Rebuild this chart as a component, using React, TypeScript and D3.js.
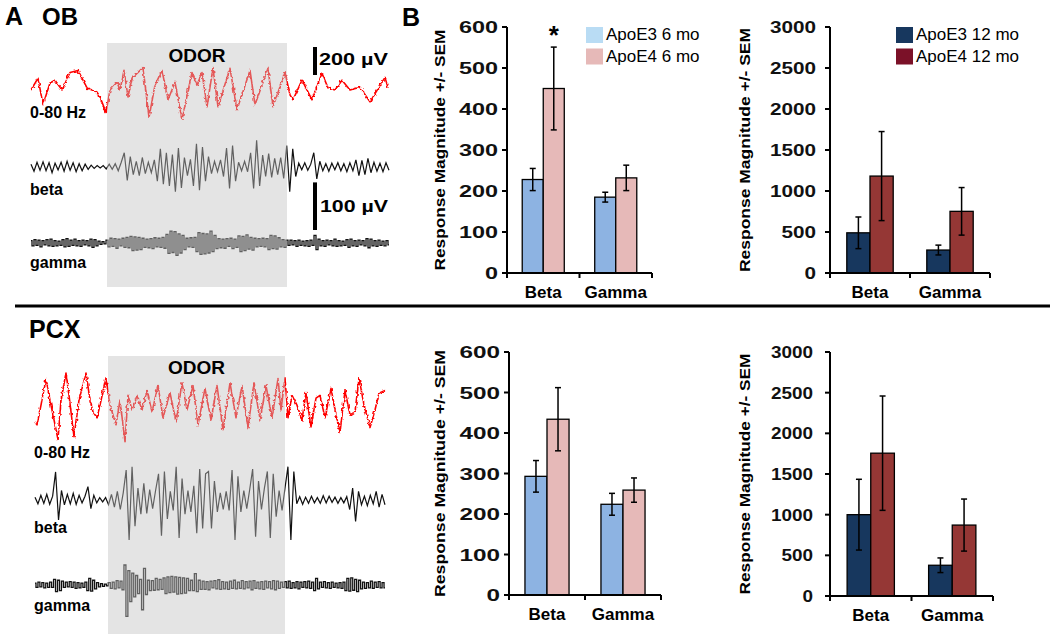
import React from "react";
import * as d3 from "d3";

// bar chart data
const categories = ["Beta", "Gamma"];
const ticks6 = [0, 100, 200, 300, 400, 500, 600];
const ticks12 = [0, 500, 1000, 1500, 2000, 2500, 3000];
const legend6 = ["ApoE3 6 mo", "ApoE4 6 mo"];
const legend12 = ["ApoE3 12 mo", "ApoE4 12 mo"];

const obE3_6 = [228, 185];
const obE3_6sem = [27, 12];
const obE4_6 = [450, 232];
const obE4_6sem = [101, 31];
const obE3_12 = [490, 280];
const obE3_12sem = [193, 60];
const obE4_12 = [1182, 752];
const obE4_12sem = [543, 290];

const pcxE3_6 = [293, 224];
const pcxE3_6sem = [39, 27];
const pcxE4_6 = [434, 259];
const pcxE4_6sem = [78, 30];
const pcxE3_12 = [1000, 378];
const pcxE3_12sem = [435, 90];
const pcxE4_12 = [1756, 872];
const pcxE4_12sem = [703, 320];

// LFP traces: [time ms, µV] for the 0-80 Hz band, successive extrema (µV) for beta / gamma
const obRed: [number, number][] = [
  [0, 0], [70, 85], [120, -105], [190, 50], [240, 70], [310, 0], [390, 125], [470, 140],
  [560, 15], [610, 0], [660, -15], [690, -50], [750, -160], [790, 0], [860, 55], [890, 0],
  [930, 140], [970, -50], [1010, 85], [1120, 160], [1180, -195], [1240, 35], [1310, 140],
  [1370, -70], [1440, 55], [1510, -210], [1610, 125], [1660, 35], [1710, 125], [1760, -120],
  [1820, 160], [1870, -120], [1990, 155], [2060, -140], [2190, 140], [2240, -105], [2370, 155],
  [2420, -120], [2540, 125], [2590, -35], [2620, -70], [2710, 70], [2810, -70], [2910, 120],
  [2970, 15], [3040, 0], [3110, 70], [3190, 0], [3290, 20], [3390, -85], [3540, 90], [3570, 15],
];
const obBeta = [
  6, -9, 10, -7, 11, -8, 9, -12, 8, -6, 10, -9, 12, -7, 9, -10, 7, -8, 6, -5, 4, -3, 3, -2, 3,
  -4, 6, -5, 7, -8, 10, 30, -28, 22, -16, 12, -18, 20, -14, 10, -12, 15,
  -30, 38, -36, 30, -40, 26, -52, 40, -44, 20, -18, 16, -40, 49, -49, 42, -30, 22,
  -14, 12, -10, 15, -20, 40, -45, 45, -30, 10, -8, 12, -10, 30, -45, 56, -40,
  25, -20, 28, -22, 18, -16, 20, -24, 45, -52, 38, -20, 8, -6, 9, -7, 6, 30, -25, 12,
  -8, 7, -9, 8, -6, 9, -8, 7, -10, 9, -8, 15, -18, 14, -16, 18, -12, 10, -9, 8, -10, 9, -7,
];
const obGamma = [
  5, -6, 7, -5, 6, -8, 5, -4, 7, -6, 8, -7, 5, -6, 4, -5, 7, -8, 9, -7,
  6, -5, 8, -6, 5, -7, 6, -4, 5, -6, 8, -9, 7, -6, 4, -3, 3, -2,
  6, -8, 10, -7, 9, -11, 8, -6, 10, -9, 12, -10, 14, -16, 13, -15, 12, -14, 10, -9,
  8, -10, 9, -12, 11, -8, 10, -9, 12, -11, 18, -22, 25, -20, 24, -26, 19, -21, 16, -14,
  10, -8, 11, -9, 12, -18, 22, -24, 20, -23, 19, -21, 25, -18, 16, -12,
  9, -10, 8, -11, 9, -7, 10, -12, 8, -9, 15, -18, 14, -16, 17, -13, 12, -15, 10,
  -8, 9, -7, 10, -8, 9, -14, 16, -12, 15, -13, 11, -8, 7, -9, 6,
  -5, 6, -4, 5, -7, 6, -5, 4, -6, 5, -7, 6, -5, 16, -14, 8,
  -6, 5, -7, 6, -4, 5, -6, 8, -7, 5, -6, 4, -5, 7, -9, 8, -6, 5, -7, 6,
  -4, 5, -6, 9, -10, 8, -6, 5, -7, 6, -5, 4, -6, 5, -4,
];
const pcxRed: [number, number][] = [
  [0, -100], [20, -120], [60, 20], [110, 210], [150, 55], [180, -49], [230, -225], [260, 56],
  [310, 250], [340, 91], [390, -205], [440, 56], [510, 250], [550, 56], [580, -28], [620, -70],
  [650, 21], [710, 215], [750, 20], [810, -120], [850, 56], [900, -240], [930, 91], [970, -14],
  [1020, 90], [1070, -14], [1120, 125], [1170, -28], [1230, 160], [1280, -70], [1350, 110],
  [1410, -100], [1470, 180], [1520, -14], [1580, 160], [1630, -120], [1700, 140], [1760, -85],
  [1820, 160], [1880, -155], [1950, 180], [2010, -70], [2070, 160], [2130, -140], [2190, 180],
  [2250, -85], [2310, 160], [2370, -70], [2430, 210], [2460, -14], [2500, 215], [2530, -70],
  [2570, 90], [2620, 20], [2670, -85], [2710, 110], [2760, -135], [2810, 70], [2850, 90],
  [2900, -70], [2960, 140], [3010, -50], [3050, -175], [3100, 125], [3150, -50], [3200, -28],
  [3240, 215], [3290, 20], [3350, -140], [3400, -14], [3440, 105], [3500, 125],
];
const pcxBeta = [
  6, -8, 10, -7, 12, -9, 8, 59, -42, 20, -10, 12, -8, 14, -9, 10, -6, 8, 28, -18, 10,
  -6, 5, -4, 5, -10, 12, -15, 18, -20, 15, 63, -84, 70, -55, 25, -30, 35, -28, 22, -18, 20,
  55, -75, 60, -40, 18, -22, 70, -80, 45, -30, 20, -25, 30, -70, 65, -60, 55,
  60, -60, 40, -25, 15, -20, 18, -22, 63, -84, 50, -25, 20, -18, 22, 65, -77, 40, -20, 25,
  60, -80, 55, -35, 20, -22, 25, 70, -84, 60,
  -8, 7, -9, 6, -7, 8, -6, 5, -7, 9, -6, 8, -5, 6, -7, 5, -6, 7,
  -20, 25, -45, 18, -10, 8, -12, 10, -8, 18, -15, 12, -10,
];
const pcxGamma = [
  4, -5, 6, -4, 5, -6, 4, -5, 6, -5, 12, -14, 10, -12, 8,
  -5, 6, -4, 7, -5, 6, -7, 5, -6, 4, -5, 6, -12, 14, -13, 10, -8, 5, -4, 3, -3, 2, -2,
  5, -7, 6, -8, 9, -6, 8, -10, 42, -66, 30, -35, 25, -25, 20, -18, 12, -52, 35, -20,
  10, -12, 9, -11, 14, -10, 12, -9, 15, -18, 17, -16, 18, -15, 17, -19, 16, -18, 15, -17, 14, -12, 10,
  -12, 24, -14, 10, -9,
  8, -9, 7, -10, 8, -6, 9, -8, 11, -9, 7, -8, 6, -9, 8, -7, 10, -8, 6, -7,
  9, -8, 7, -6, 8, -10, 9, -7, 6, -8, 7, -9, 8, -6, 7, -8, 9, -10, 8, -7, 6, -5,
  7, -6, 8, -7, 5, -6, 7, -8, 6, -5, 7, -6, 8, -7, 6, -12, 14, -8,
  6, -5, 7, -6, 5, -7, 6, -5, 4, -6, 5, -7, 6, -12, 14, -13, 15, -11, 12, -14, 10, -8,
  6, -7, 5, -6, 8, -7, 6, -5, 7, -6, 5, -6,
];
const scaleBars = [200, 100]; // µV

const FONT = "'Liberation Sans', Arial, Helvetica, sans-serif";
const C = {
  e3_6: "#8db3e2", e4_6: "#e6b9b8", e3_6key: "#b9dcf4", e4_6key: "#e6b9b8",
  e3_12: "#17375e", e4_12: "#953735", e3_12key: "#17375e", e4_12key: "#7b1128",
};

type BarProps = {
  x0: number; x1: number; yTop: number; yBottom: number; maxV: number; ticks: number[];
  e3: number[]; e3Sem: number[]; e4: number[]; e4Sem: number[];
  c3: string; c4: string; digitW: number; labelRight: number;
  yLabelX: number; yLabelLen: number; legend?: string[]; keyColors?: string[];
  legendX?: number; star?: boolean;
};

function BarChart(p: BarProps) {
  const x = d3.scaleBand().domain(categories).range([p.x0, p.x1]).paddingInner(0.42).paddingOuter(0.21);
  const xs = d3.scaleBand().domain(["e3", "e4"]).range([0, x.bandwidth()]);
  const y = d3.scaleLinear().domain([0, p.maxV]).range([p.yBottom, p.yTop]);
  const series = [
    { key: "e3", m: p.e3, s: p.e3Sem, c: p.c3 },
    { key: "e4", m: p.e4, s: p.e4Sem, c: p.c4 },
  ];
  const mid = (p.x0 + p.x1) / 2;
  const cy = (p.yTop + p.yBottom) / 2;
  return (
    <g fontFamily={FONT}>
      {series.map((sr) =>
        categories.map((cat, i) => {
          const bx = (x(cat) as number) + (xs(sr.key) as number);
          const bw = xs.bandwidth();
          const cx = bx + bw / 2;
          return (
            <g key={sr.key + cat}>
              <rect x={bx} y={y(sr.m[i])} width={bw} height={y(0) - y(sr.m[i])}
                fill={sr.c} stroke="#000" strokeWidth={1.3} />
              <line x1={cx} x2={cx} y1={y(sr.m[i] - sr.s[i])} y2={y(sr.m[i] + sr.s[i])} stroke="#000" strokeWidth={1.5} />
              <line x1={cx - 3} x2={cx + 3} y1={y(sr.m[i] - sr.s[i])} y2={y(sr.m[i] - sr.s[i])} stroke="#000" strokeWidth={1.5} />
              <line x1={cx - 3} x2={cx + 3} y1={y(sr.m[i] + sr.s[i])} y2={y(sr.m[i] + sr.s[i])} stroke="#000" strokeWidth={1.5} />
              {p.star && sr.key === "e4" && i === 0 && (
                <text x={cx} y={y(sr.m[i] + sr.s[i]) - 3} textAnchor="middle" fontSize={26} fontWeight="bold">*</text>
              )}
            </g>
          );
        })
      )}
      {/* axes */}
      <line x1={p.x0} x2={p.x0} y1={p.yTop} y2={p.yBottom} stroke="#000" strokeWidth={2} />
      <line x1={p.x0} x2={p.x1} y1={p.yBottom} y2={p.yBottom} stroke="#000" strokeWidth={2} />
      {p.ticks.map((t) => (
        <g key={t}>
          <line x1={p.x0 - 5} x2={p.x0} y1={y(t)} y2={y(t)} stroke="#000" strokeWidth={2} />
          <text x={p.labelRight} y={y(t) + 6} textAnchor="end" fontSize={16} fontWeight="bold" fill="#111"
            textLength={String(t).length * p.digitW} lengthAdjust="spacingAndGlyphs">{t}</text>
        </g>
      ))}
      {[p.x0, mid, p.x1].map((tx, i) => (
        <line key={i} x1={tx} x2={tx} y1={p.yBottom} y2={p.yBottom + 5} stroke="#000" strokeWidth={2} />
      ))}
      {categories.map((cat) => (
        <text key={cat} x={(x(cat) as number) + x.bandwidth() / 2} y={p.yBottom + 25}
          textAnchor="middle" fontSize={17} fontWeight="bold">{cat}</text>
      ))}
      <text transform={`translate(${p.yLabelX},${cy}) rotate(-90)`} textAnchor="middle" fontSize={15}
        fontWeight="bold" textLength={p.yLabelLen} lengthAdjust="spacingAndGlyphs">Response Magnitude +/- SEM</text>
      {p.legend && p.legend.map((lab, i) => (
        <g key={lab} transform={`translate(${p.legendX},${p.yTop + i * 21.5})`}>
          <rect x={0} y={0} width={17} height={16} fill={p.keyColors![i]} />
          <text x={20} y={13} fontSize={17}>{lab}</text>
        </g>
      ))}
    </g>
  );
}

type TraceProps = {
  x0: number; x1: number; rect: [number, number, number, number];
  red: [number, number][]; beta: number[]; gamma: number[];
  redY: number; betaY: number; gammaY: number; labY: [number, number, number];
  odorY: number; bars?: boolean;
};

function TracePanel(p: TraceProps) {
  const t = d3.scaleLinear().domain([0, 3580]).range([p.x0, p.x0 + 358]);
  const redScale = d3.scaleLinear().domain([0, 200]).range([0, -28]);
  const fastScale = d3.scaleLinear().domain([0, 100]).range([0, -47.6]);
  const redLine = d3.line<[number, number]>().x((d) => t(d[0])).y((d) => p.redY + redScale(d[1]));
  const bx = d3.scaleLinear().domain([0, p.beta.length - 1]).range([p.x0, p.x1]);
  const gx = d3.scaleLinear().domain([0, p.gamma.length - 1]).range([p.x0, p.x1]);
  const betaLine = d3.line<number>().x((_, i) => bx(i)).y((d) => p.betaY + fastScale(d));
  const gammaLine = d3.line<number>().x((_, i) => gx(i)).y((d) => p.gammaY + fastScale(d)).curve(d3.curveStep);
  const [rx, ry, rw, rh] = p.rect;
  return (
    <g fontFamily={FONT} fontWeight="bold">
      <path d={redLine(p.red) || ""} fill="none" stroke="#ff0000" strokeWidth={1.6} strokeLinejoin="round"
        filter="url(#jitter)" />
      <path d={betaLine(p.beta) || ""} fill="none" stroke="#111" strokeWidth={1.2} />
      <path d={gammaLine(p.gamma) || ""} fill="none" stroke="#111" strokeWidth={1.3} />
      <rect x={rx} y={ry} width={rw} height={rh} fill="#c4c4c4" opacity={0.45} />
      <text x={rx + rw / 2} y={p.odorY} textAnchor="middle" fontSize={19}>ODOR</text>
      <text x={p.x0 - 1} y={p.labY[0]} fontSize={16}>0-80 Hz</text>
      <text x={p.x0 - 1} y={p.labY[1]} fontSize={16}>beta</text>
      <text x={p.x0 - 1} y={p.labY[2]} fontSize={16}>gamma</text>
      {p.bars && (
        <g>
          <rect x={313} y={75 + redScale(scaleBars[0])} width={4} height={-redScale(scaleBars[0])} fill="#000" />
          <text x={319} y={65} fontSize={17} textLength={69} lengthAdjust="spacingAndGlyphs">200 µV</text>
          <rect x={313} y={230 + fastScale(scaleBars[1])} width={4} height={-fastScale(scaleBars[1])} fill="#000" />
          <text x={320} y={212} fontSize={17} textLength={68} lengthAdjust="spacingAndGlyphs">100 µV</text>
        </g>
      )}
    </g>
  );
}

export default function App() {
  return (
    <svg width={1050} height={634} style={{ position: "absolute", left: 0, top: 0, background: "#fff" }}>
      <defs>
        <filter id="jitter" x="-5%" y="-30%" width="110%" height="160%">
          <feTurbulence type="fractalNoise" baseFrequency="0.35" numOctaves={1} seed={4} result="n" />
          <feDisplacementMap in="SourceGraphic" in2="n" scale={4} xChannelSelector="R" yChannelSelector="G" />
        </filter>
      </defs>
      <rect width={1050} height={634} fill="#fff" />
      <text x={5} y={25} fontFamily={FONT} fontWeight="bold" fontSize={25}>A</text>
      <text x={42} y={25} fontFamily={FONT} fontWeight="bold" fontSize={24}>OB</text>
      <text x={402} y={26} fontFamily={FONT} fontWeight="bold" fontSize={25}>B</text>
      <TracePanel x0={31} x1={389} rect={[107, 43, 180, 244]}
        red={obRed} beta={obBeta} gamma={obGamma} redY={90} betaY={167} gammaY={243}
        labY={[118, 195, 268]} odorY={62} bars />
      <text x={29} y={338} fontFamily={FONT} fontWeight="bold" fontSize={25}>PCX</text>
      <TracePanel x0={35} x1={385} rect={[108, 356, 177, 278]}
        red={pcxRed} beta={pcxBeta} gamma={pcxGamma} redY={408} betaY={500} gammaY={585}
        labY={[458, 533, 611]} odorY={374} />
      <line x1={15} x2={1050} y1={306} y2={306} stroke="#000" strokeWidth={3} />
      <BarChart x0={507} x1={652} yTop={27} yBottom={273} maxV={600} ticks={ticks6}
        e3={obE3_6} e3Sem={obE3_6sem} e4={obE4_6} e4Sem={obE4_6sem} c3={C.e3_6} c4={C.e4_6}
        digitW={13} labelRight={498} yLabelX={445} yLabelLen={241}
        legend={legend6} keyColors={[C.e3_6key, C.e4_6key]} legendX={586} star />
      <BarChart x0={830} x1={990} yTop={27} yBottom={273} maxV={3000} ticks={ticks12}
        e3={obE3_12} e3Sem={obE3_12sem} e4={obE4_12} e4Sem={obE4_12sem} c3={C.e3_12} c4={C.e4_12}
        digitW={11.5} labelRight={816} yLabelX={750} yLabelLen={244}
        legend={legend12} keyColors={[C.e3_12key, C.e4_12key]} legendX={896} />
      <BarChart x0={509} x1={661} yTop={352} yBottom={595} maxV={600} ticks={ticks6}
        e3={pcxE3_6} e3Sem={pcxE3_6sem} e4={pcxE4_6} e4Sem={pcxE4_6sem} c3={C.e3_6} c4={C.e4_6}
        digitW={13.5} labelRight={500} yLabelX={445} yLabelLen={247} />
      <BarChart x0={830} x1={993} yTop={352} yBottom={596} maxV={3000} ticks={ticks12}
        e3={pcxE3_12} e3Sem={pcxE3_12sem} e4={pcxE4_12} e4Sem={pcxE4_12sem} c3={C.e3_12} c4={C.e4_12}
        digitW={10.5} labelRight={813} yLabelX={750} yLabelLen={241} />
    </svg>
  );
}
